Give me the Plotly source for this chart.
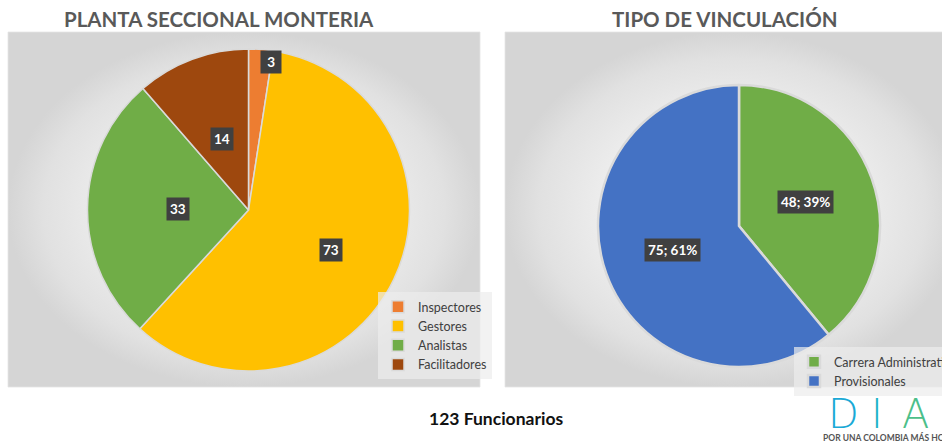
import math
import plotly.graph_objects as go

W, H = 942, 444

# ---------------- data ----------------
planta_title = "PLANTA SECCIONAL MONTERIA"
planta_labels = ["Inspectores", "Gestores", "Analistas", "Facilitadores"]
planta_values = [3, 73, 33, 14]

vinc_title = "TIPO DE VINCULACIÓN"
vinc_labels = ["Carrera Administrativa", "Provisionales"]
vinc_values = [48, 75]

total_text = "123 Funcionarios"

# ---------------- style ----------------
planta_colors = ["#ED7D31", "#FFC000", "#70AD47", "#9E480E"]
vinc_colors = ["#70AD47", "#4472C4"]
FONT = "Lato"

# pie geometry in px (center x, center y, radius)
L_CX, L_CY, L_R = 248.5, 210, 161
R_CX, R_CY, R_R = 739, 226, 141
# radial position of data labels as fraction of radius
planta_label_r = [0.92, 0.57, 0.44, 0.47]
vinc_label_r = [0.5, 0.5]


def dom(cx, cy, r):
    return dict(x=[(cx - r) / W, (cx + r) / W],
                y=[1 - (cy + r) / H, 1 - (cy - r) / H])


def label_positions(values, cx, cy, r, fracs):
    tot = sum(values)
    cum = 0
    out = []
    for v, f in zip(values, fracs):
        mid = (cum + v / 2) / tot * 2 * math.pi
        cum += v
        x = cx + f * r * math.sin(mid)
        y = cy - f * r * math.cos(mid)
        out.append((x / W, 1 - y / H))
    return out


fig = go.Figure()

# background panels with radial gradient
for x0, x1 in [(8, 480), (505, 960)]:
    y0, y1 = 32, 387
    fig.add_trace(go.Scatter(
        x=[x0, x1, x1, x0, x0], y=[y0, y0, y1, y1, y0],
        mode="lines", line=dict(width=0.8, color="#e4e4e4"),
        fill="toself",
        fillgradient=dict(type="radial",
                          colorscale=[[0, "#fbfbfb"], [0.5, "#f0f0f0"], [0.85, "#e1e1e1"], [1, "#d5d5d5"]]),
        hoverinfo="skip", showlegend=False))

fig.add_trace(go.Pie(
    labels=planta_labels, values=planta_values,
    marker=dict(colors=planta_colors, line=dict(color="#dadada", width=1.5)),
    sort=False, direction="clockwise", rotation=0,
    textinfo="none", domain=dom(L_CX, L_CY, L_R),
    legend="legend", name=planta_title))

fig.add_trace(go.Pie(
    labels=vinc_labels, values=vinc_values,
    marker=dict(colors=vinc_colors, line=dict(color="#dadada", width=2.5)),
    sort=False, direction="clockwise", rotation=0,
    textinfo="none", domain=dom(R_CX, R_CY, R_R),
    legend="legend2", name=vinc_title))

annotations = []
box = dict(bgcolor="#404040", borderpad=3, showarrow=False,
           font=dict(family=FONT, size=13.5, color="white", weight="bold"),
           xref="paper", yref="paper")

for i, ((x, y), v) in enumerate(zip(label_positions(planta_values, L_CX, L_CY, L_R, planta_label_r),
                                    planta_values)):
    annotations.append(dict(x=x, y=y, text=(f" {v} " if i == 0 else str(v)),
                            xanchor="left" if i == 0 else "center", yanchor="middle", **box))

vt = sum(vinc_values)
for (x, y), v in zip(label_positions(vinc_values, R_CX, R_CY, R_R, vinc_label_r), vinc_values):
    annotations.append(dict(x=x, y=y, text=f"{v}; {round(100 * v / vt)}%",
                            xanchor="center", yanchor="middle", **box))

title_font = dict(family=FONT, size=20.5, color="#595959", weight="bold")
annotations += [
    dict(x=219 / W, y=1 - 19 / H, text=planta_title, showarrow=False, xref="paper", yref="paper",
         xanchor="center", yanchor="middle", font=title_font),
    dict(x=725 / W, y=1 - 19 / H, text=vinc_title, showarrow=False, xref="paper", yref="paper",
         xanchor="center", yanchor="middle", font=title_font),
    dict(x=496 / W, y=1 - 418 / H, text=total_text, showarrow=False, xref="paper", yref="paper",
         xanchor="center", yanchor="middle",
         font=dict(family=FONT, size=17.5, color="#111111", weight="bold")),
]

# DIAN logo letters (partly cut by the right edge)
logo_font = dict(family="DejaVu Sans ExtraLight, DejaVu Sans, Lato", size=40, weight=200)
for ch, xc, col in [("D", 843, "#1aa9d6"), ("I", 877, "#1db3c8"), ("A", 915, "#4cbf8a"), ("N", 964, "#5cc47a")]:
    annotations.append(dict(x=xc / W, y=1 - 414 / H, text=ch, showarrow=False,
                            xref="paper", yref="paper", xanchor="center", yanchor="middle",
                            font=dict(color=col, **logo_font)))
annotations.append(dict(x=821 / W, y=1 - 437 / H, text="POR UNA COLOMBIA MÁS HONESTA", showarrow=False,
                        xref="paper", yref="paper", xanchor="left", yanchor="middle",
                        font=dict(family=FONT, size=8.5, color="#555555", weight="bold")))

legend_common = dict(font=dict(family=FONT, size=12.5, color="#404040"),
                     bgcolor="rgba(236,236,236,0.7)", xanchor="left", yanchor="top",
                     itemclick=False, itemdoubleclick=False, itemwidth=30)

fig.update_layout(
    width=W, height=H,
    margin=dict(l=0, r=0, t=0, b=0, autoexpand=False),
    paper_bgcolor="white", plot_bgcolor="rgba(0,0,0,0)",
    xaxis=dict(range=[0, W], visible=False, fixedrange=True, domain=[0, 1]),
    yaxis=dict(range=[H, 0], visible=False, fixedrange=True, domain=[0, 1]),
    legend=dict(x=378 / W, y=1 - 292 / H, **legend_common),
    legend2=dict(x=794 / W, y=1 - 347 / H, **legend_common),
    annotations=annotations,
    showlegend=True,
)

fig.write_html("out.html", config={"displayModeBar": False},
               post_script="document.body.style.margin='0px';document.body.style.overflow='hidden';")
